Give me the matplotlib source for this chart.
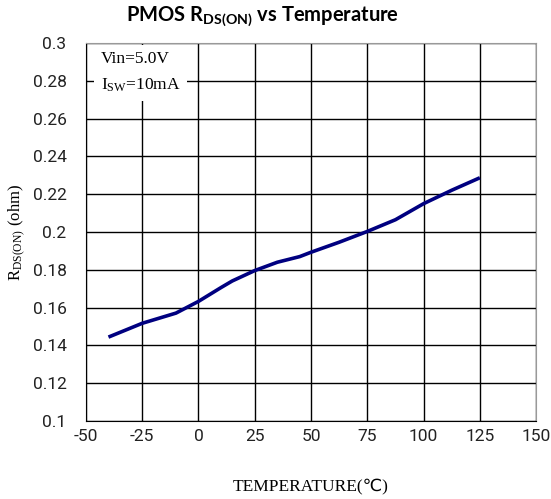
import matplotlib
matplotlib.use("Agg")
import matplotlib.pyplot as plt

plt.rcParams['axes.unicode_minus'] = False

# PMOS on-resistance measured across temperature
temp_c = [-40, -25, -10, 0, 10, 15, 25, 35, 45, 50, 62.5, 75, 87.5, 100, 112.5, 125]
rds_on = [0.1444, 0.1517, 0.1571, 0.1633, 0.1706, 0.1741, 0.1796, 0.1840,
          0.1870, 0.1893, 0.1946, 0.2003, 0.2065, 0.2150, 0.2221, 0.2287]

x_ticks = [-50, -25, 0, 25, 50, 75, 100, 125, 150]
y_ticks = [0.1, 0.12, 0.14, 0.16, 0.18, 0.2, 0.22, 0.24, 0.26, 0.28, 0.3]
y_tick_labels = ['0.1', '0.12', '0.14', '0.16', '0.18', '0.2',
                 '0.22', '0.24', '0.26', '0.28', '0.3']

fig = plt.figure(figsize=(5.51, 4.99), dpi=100)
ax = fig.add_axes([0.156, 0.1563, 0.817, 0.7575])

ax.plot(temp_c, rds_on, color='#000080', lw=2.6, solid_capstyle='butt', zorder=3)

ax.set_xlim(-50, 150)
ax.set_ylim(0.1, 0.3)
ax.set_xticks(x_ticks)
ax.set_xticklabels([str(t) for t in x_ticks])
ax.set_yticks(y_ticks)
ax.set_yticklabels(y_tick_labels)
ax.tick_params(length=0, labelsize=12.5, pad=6)
ax.tick_params(axis='y', pad=14)
for lbl in ax.get_xticklabels() + ax.get_yticklabels():
    lbl.set_family('Roboto')
    lbl.set_color('#222222')

ax.grid(True, color='black', lw=1.0)
ax.set_axisbelow(True)
for side in ['left', 'bottom']:
    ax.spines[side].set_color('black')
for side in ['top', 'right']:
    ax.spines[side].set_color('#999999')

# condition box in the top-left corner
ax.text(0.033, 0.978,
        'Vin=5.0V\n$\\mathregular{I_{SW}}$=10mA',
        transform=ax.transAxes, ha='left', va='top',
        family='Liberation Serif', fontsize=12.5, linespacing=1.75,
        bbox=dict(facecolor='white', edgecolor='none', pad=5), zorder=4)

ax.set_xlabel('TEMPERATURE(℃)', family=['Liberation Serif', 'DejaVu Sans'],
              fontsize=12.5, va='center')
ax.xaxis.set_label_coords(0.5, -0.175)
ax.set_ylabel('$\\mathregular{R_{DS(ON)}}$ (ohm)', family='Liberation Serif',
              fontsize=12, va='center')
ax.yaxis.set_label_coords(-0.151, 0.5)

fig.text(0.476, 0.968, 'PMOS $\\mathregular{R_{DS(ON)}}$ vs Temperature',
         ha='center', va='center', family='Lato', fontsize=14.5,
         fontweight='bold')

fig.savefig('out.png', dpi=100)
